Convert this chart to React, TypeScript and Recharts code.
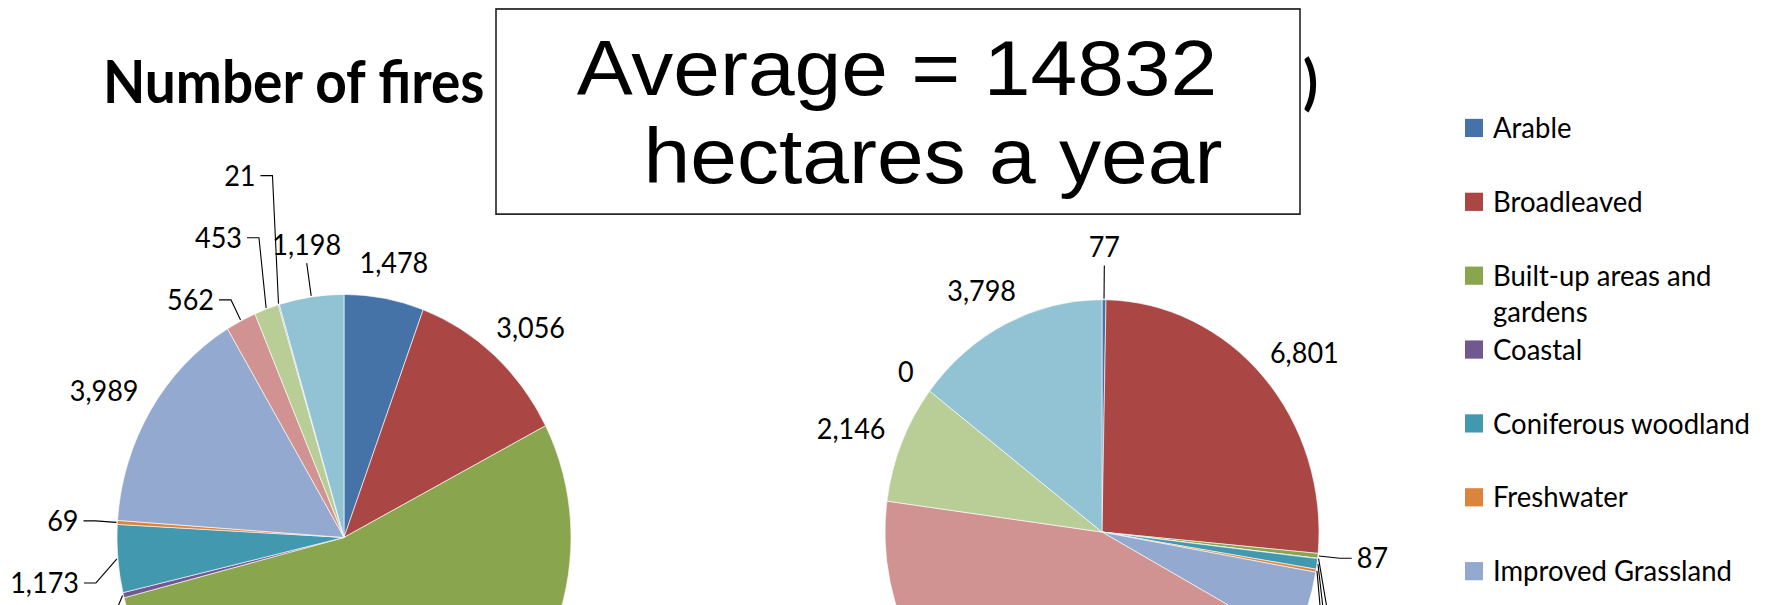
import React, { useRef, useState } from 'react';
import { PieChart, Pie, Cell, Legend } from 'recharts';

const categories = [
  'Arable',
  'Broadleaved',
  'Built-up areas and gardens',
  'Coastal',
  'Coniferous woodland',
  'Freshwater',
  'Improved Grassland',
  'Mountain, heath, bog',
  'Not known',
  'Saltwater',
  'Semi-natural grassland',
];
const fires = [1478, 3056, 13970, 90, 1173, 69, 3989, 562, 453, 21, 1198];
const hectares = [77, 6801, 87, 6, 190, 55, 1330, 11500, 2146, 0, 3798];
const colors = ['#4572A7', '#AA4643', '#89A54E', '#71588F', '#4198AF', '#DB843D', '#93A9CF', '#D19392', '#B9CD96', '#A99BBD', '#92C3D4'];

const titleMain = 'Number of fires and area burnt (hectares';
const titleEnd = ')';
const boxLine1 = 'Average = 14832';
const boxLine2 = 'hectares a year';

const K = 1.0706; // vertical stretch of the slide
const FONT = 27;
const LEG_FONT = 27.5;
const LABEL_FONT = 'Lato, "Open Sans", sans-serif';

const firesData = categories.map((name, i) => ({ name, value: fires[i] }));
const haData = categories.map((name, i) => ({ name, value: hectares[i] }));

type Geo = { cx: number; cy: number; midAngle: number; outerRadius: number; percent: number; value: number };
type Box = { x1: number; x2: number; y: number };
type Placed = {
  kind: 'center' | 'side' | 'top';
  text: string;
  ex: number;
  ey: number;
  px: number;
  py: number;
  side: number;
  dir: number;
};

function textW(s: string) {
  let w = 0;
  for (const c of s) w += c === ',' ? 0.24 * FONT : 0.58 * FONT;
  return w;
}

function boxOf(p: Placed): Box {
  const w = textW(p.text);
  if (p.kind === 'center') return { x1: p.px - w / 2, x2: p.px + w / 2, y: p.py };
  if (p.kind === 'top') return { x1: p.px - w / 2, x2: p.px + w / 2, y: p.py + p.dir * 17 };
  return p.side < 0 ? { x1: p.px - 17 - w, x2: p.px - 17, y: p.py } : { x1: p.px + 17, x2: p.px + 17 + w, y: p.py };
}

function computeLayout(geo: Geo[]): Placed[] {
  const out: Placed[] = [];
  const store: Box[] = [];
  const small: number[] = [];
  geo.forEach((g, i) => {
    if (!g) return;
    const rad = (-g.midAngle * Math.PI) / 180;
    const ux = Math.cos(rad);
    const uy = Math.sin(rad);
    const text = Number(g.value).toLocaleString('en-US');
    const ex = g.cx + (g.outerRadius + 1) * ux;
    const ey = g.cy + (g.outerRadius + 1) * uy;
    if (g.value === 0 || g.percent >= 0.05) {
      let px: number;
      let py: number;
      if (g.value === 0) {
        px = g.cx + (g.outerRadius + 30) * ux;
        py = g.cy + (g.outerRadius + 30) * uy;
      } else {
        // label box sits just outside the slice edge
        const w = textW(text);
        px = g.cx + (g.outerRadius + 20) * ux + (ux * w) / 2;
        py = g.cy + (g.outerRadius + 20) * uy + uy * 14;
      }
      const p: Placed = { kind: 'center', text, ex, ey, px, py, side: 0, dir: 0 };
      out[i] = p;
      store.push(boxOf(p));
    } else {
      small.push(i);
    }
  });
  // process small labels from the horizontal outward
  const key = (i: number) => Math.abs(Math.sin((-geo[i].midAngle * Math.PI) / 180));
  small.sort((a, b) => key(a) - key(b));
  for (const i of small) {
    const g = geo[i];
    const rad = (-g.midAngle * Math.PI) / 180;
    const ux = Math.cos(rad);
    const uy = Math.sin(rad);
    const top = Math.abs(ux) < 0.2;
    const r = g.outerRadius + (top ? 32 : 22);
    const p: Placed = {
      kind: top ? 'top' : 'side',
      text: Number(g.value).toLocaleString('en-US'),
      ex: g.cx + (g.outerRadius + 1) * ux,
      ey: g.cy + (g.outerRadius + 1) * uy,
      px: g.cx + r * ux,
      py: g.cy + r * uy,
      side: ux < 0 ? -1 : 1,
      dir: uy < 0 ? -1 : 1,
    };
    let guard = 0;
    while (guard++ < 30) {
      const b = boxOf(p);
      const hit = store.find((o) => o.x1 - 12 < b.x2 && b.x1 - 12 < o.x2 && Math.abs(o.y - b.y) < 40);
      if (!hit) break;
      p.py = hit.y + p.dir * 58 - (top ? p.dir * 17 : 0);
    }
    out[i] = p;
    store.push(boxOf(p));
  }
  return out;
}

function renderPlaced(p: Placed | undefined, index: number) {
  if (!p) return <g key={`e${index}`} />;
  const style = { fontFamily: LABEL_FONT, fontSize: FONT, fill: '#000' } as const;
  if (p.kind === 'center') {
    return (
      <text key={`t${index}`} x={p.px} y={p.py + 9.5} textAnchor="middle" style={style}>
        {p.text}
      </text>
    );
  }
  const top = p.kind === 'top';
  const pts = top
    ? `${p.ex},${p.ey} ${p.px},${p.py}`
    : `${p.ex},${p.ey} ${p.px},${p.py} ${p.px + p.side * 12},${p.py}`;
  return (
    <g key={`g${index}`}>
      <polyline points={pts} fill="none" stroke="#000" strokeWidth={1.1} />
      <text
        x={top ? p.px : p.px + p.side * 17}
        y={top ? (p.dir < 0 ? p.py - 7.5 : p.py + 26.5) : p.py + 9.5}
        textAnchor={top ? 'middle' : p.side < 0 ? 'end' : 'start'}
        style={style}
      >
        {p.text}
      </text>
    </g>
  );
}

function LegendBlock() {
  return (
    <div style={{ position: 'relative', width: 305, height: 520, fontFamily: LABEL_FONT }}>
      {categories.map((name, i) => (
        <div key={name} style={{ position: 'absolute', left: 0, top: i * 69, width: 305 }}>
          <div style={{ position: 'absolute', left: 0, top: 0, width: 18, height: 16.8, background: colors[i] }} />
          <div
            style={{
              position: 'absolute',
              left: 28,
              top: -8.7,
              width: 276,
              fontSize: LEG_FONT,
              lineHeight: '33.6px',
              color: '#000',
              whiteSpace: 'normal',
            }}
          >
            {name}
          </div>
        </div>
      ))}
    </div>
  );
}

export default function App() {
  const H = 566;
  const geoA = useRef<Geo[]>([]);
  const geoB = useRef<Geo[]>([]);
  const pendA = useRef(false);
  const pendB = useRef(false);
  const [layA, setLayA] = useState<Placed[] | null>(null);
  const [layB, setLayB] = useState<Placed[] | null>(null);

  const makeLabel =
    (geo: React.MutableRefObject<Geo[]>, lay: Placed[] | null, setLay: (f: any) => void, pend: React.MutableRefObject<boolean>) =>
    (props: any) => {
      const { cx, cy, midAngle, outerRadius, percent, value, index } = props;
      geo.current[index] = { cx, cy, midAngle, outerRadius, percent, value };
      if (!lay) {
        if (!pend.current) {
          pend.current = true;
          setTimeout(() => setLay((prev: Placed[] | null) => prev ?? computeLayout(geo.current.slice())), 0);
        }
        return <g key={`w${index}`} />;
      }
      return renderPlaced(lay[index], index);
    };

  return (
    <div style={{ position: 'absolute', left: 0, top: 0, width: 1770, height: 605, overflow: 'hidden', background: '#fff' }}>
      <div style={{ position: 'absolute', left: 0, top: 0, width: 1770, height: H, transform: `scaleY(${K})`, transformOrigin: '0 0' }}>
        <PieChart width={1770} height={H} margin={{ top: 0, right: 0, bottom: 0, left: 0 }}>
          <Pie
            data={firesData}
            dataKey="value"
            nameKey="name"
            cx={344}
            cy={502}
            outerRadius={227}
            startAngle={90}
            endAngle={-270}
            stroke="#ffffff"
            strokeWidth={0.6}
            labelLine={false}
            label={makeLabel(geoA, layA, setLayA, pendA)}
            isAnimationActive={false}
          >
            {firesData.map((d, i) => (
              <Cell key={d.name} fill={colors[i]} />
            ))}
          </Pie>
          <Pie
            data={haData}
            dataKey="value"
            nameKey="name"
            cx={1102}
            cy={497}
            outerRadius={217}
            startAngle={90}
            endAngle={-270}
            stroke="#ffffff"
            strokeWidth={0.6}
            labelLine={false}
            label={makeLabel(geoB, layB, setLayB, pendB)}
            isAnimationActive={false}
          >
            {haData.map((d, i) => (
              <Cell key={d.name} fill={colors[i]} />
            ))}
          </Pie>
          <Legend
            layout="vertical"
            align="right"
            verticalAlign="top"
            wrapperStyle={{ position: 'absolute', left: 1465, top: 111, width: 305, height: 520 }}
            content={() => <LegendBlock />}
          />
        </PieChart>
        <svg width={1770} height={H} style={{ position: 'absolute', left: 0, top: 0, pointerEvents: 'none' }}>
          <text x={103} y={96.3} style={{ fontFamily: 'Lato, sans-serif', fontWeight: 700, fontSize: 55, fill: '#000' }}>
            <tspan>{titleMain}</tspan>
            <tspan x={1303}>{titleEnd}</tspan>
          </text>
          <rect x={496} y={8.4} width={804} height={191.6} fill="#fff" stroke="#222" strokeWidth={1.6} />
          <text
            transform={`translate(897 88.8) scale(1 0.86)`}
            x={0}
            y={0}
            textAnchor="middle"
            style={{ fontFamily: '"Liberation Sans", Arial, sans-serif', fontSize: 84, fill: '#000' }}
          >
            {boxLine1}
          </text>
          <text
            transform={`translate(933 171) scale(1 0.86)`}
            x={0}
            y={0}
            textAnchor="middle"
            style={{ fontFamily: '"Liberation Sans", Arial, sans-serif', fontSize: 84, fill: '#000' }}
          >
            {boxLine2}
          </text>
        </svg>
      </div>
    </div>
  );
}
